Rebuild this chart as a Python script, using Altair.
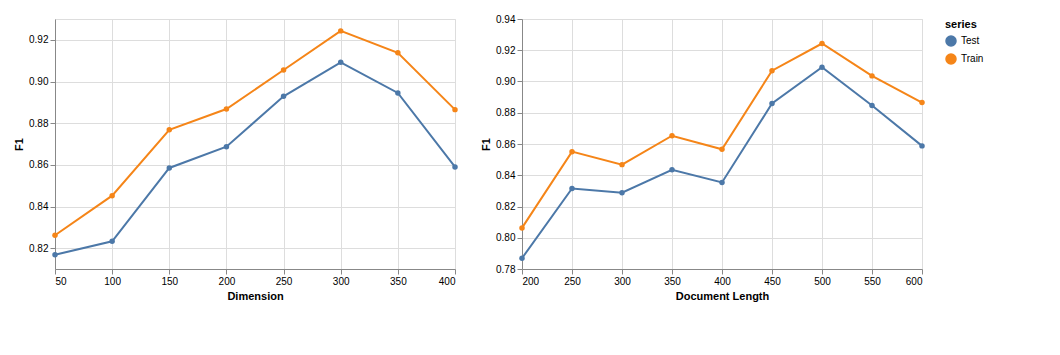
import altair as alt
import pandas as pd

series = ["Train", "Test"]
dims = [50, 100, 150, 200, 250, 300, 350, 400]
dim_train = [0.8262, 0.8452, 0.8768, 0.8868, 0.9055, 0.9243, 0.9138, 0.8865]
dim_test = [0.8168, 0.8233, 0.8585, 0.8687, 0.8929, 0.9092, 0.8945, 0.8590]

lens = [200, 250, 300, 350, 400, 450, 500, 550, 600]
len_train = [0.8063, 0.8551, 0.8468, 0.8653, 0.8566, 0.9069, 0.9243, 0.9036, 0.8865]
len_test = [0.7869, 0.8315, 0.8288, 0.8435, 0.8354, 0.8859, 0.9091, 0.8846, 0.8588]

df_a = pd.DataFrame({"x": dims * 2, "y": dim_train + dim_test,
                     "series": ["Train"] * len(dims) + ["Test"] * len(dims)})
df_b = pd.DataFrame({"x": lens * 2, "y": len_train + len_test,
                     "series": ["Train"] * len(lens) + ["Test"] * len(lens)})

a = alt.Chart(df_a).mark_line(point=True).encode(
    x=alt.X("x:Q", title="Dimension"),
    y=alt.Y("y:Q", title="F1", scale=alt.Scale(zero=False)),
    color="series:N",
).properties(width=400, height=250)
b = alt.Chart(df_b).mark_line(point=True).encode(
    x=alt.X("x:Q", title="Document Length"),
    y=alt.Y("y:Q", title="F1", scale=alt.Scale(zero=False)),
    color="series:N",
).properties(width=400, height=250)

chart = alt.hconcat(a, b)
chart.save("out.html", embed_options={"renderer": "svg", "actions": False})
